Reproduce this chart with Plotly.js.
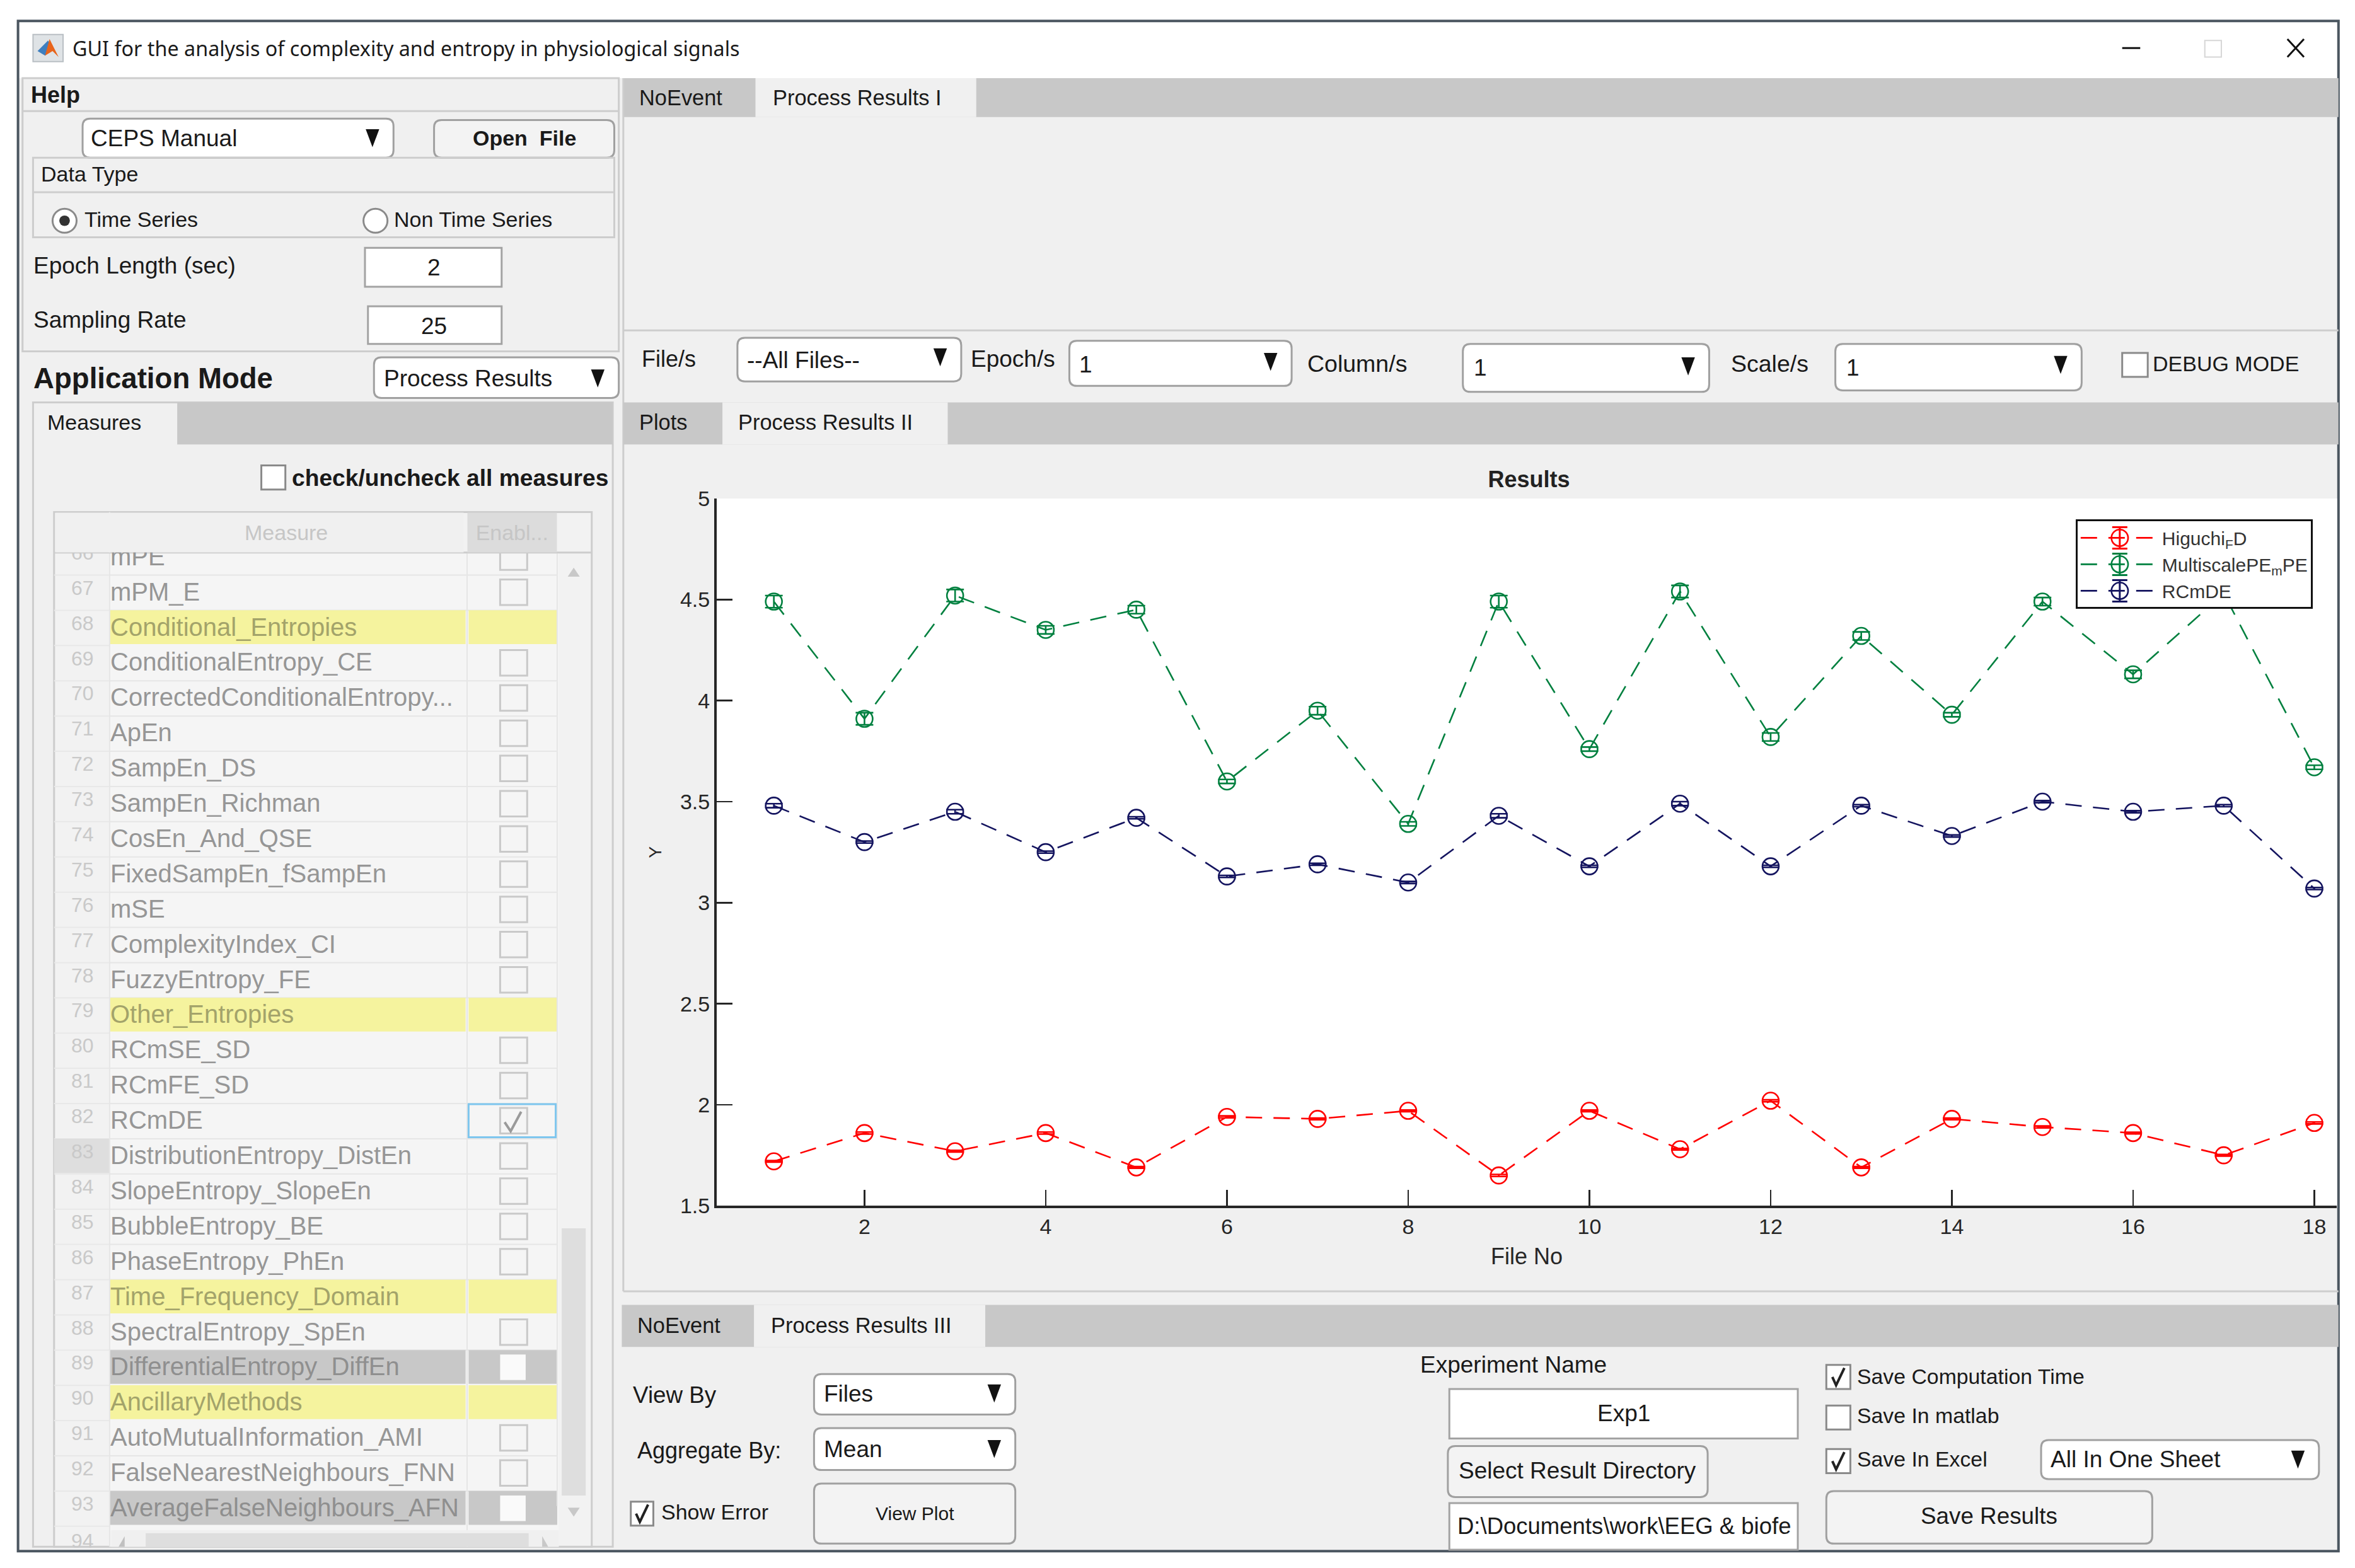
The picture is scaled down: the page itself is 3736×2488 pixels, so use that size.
<!DOCTYPE html>
<html><head><meta charset="utf-8">
<script src="https://cdn.plot.ly/plotly-3.0.1.min.js"></script>
<style>html,body{margin:0;padding:0;background:#fff}#gd{width:3736px;height:2488px}</style>
</head><body><div id="gd"></div>
<script>
// ---------- chart data ----------
const fileNo = [1,2,3,4,5,6,7,8,9,10,11,12,13,14,15,16,17,18];
const higuchiFD = [1.72,1.86,1.77,1.86,1.69,1.94,1.93,1.97,1.65,1.97,1.78,2.02,1.69,1.93,1.89,1.86,1.75,1.91];
const multiscalePE = [4.49,3.91,4.52,4.35,4.45,3.60,3.95,3.39,4.49,3.76,4.54,3.82,4.32,3.93,4.49,4.13,4.53,3.67];
const rcmDE = [3.48,3.30,3.45,3.25,3.42,3.13,3.19,3.10,3.43,3.18,3.49,3.18,3.48,3.33,3.50,3.45,3.48,3.07];
const higuchiErr = [0.004,0.005,0.004,0.005,0.004,0.005,0.004,0.004,0.005,0.004,0.004,0.005,0.004,0.004,0.005,0.004,0.004,0.005];
const multiscaleErr = [0.03,0.03,0.03,0.02,0.02,0.01,0.02,0.01,0.03,0.01,0.03,0.02,0.02,0.01,0.02,0.02,0.03,0.01];
const rcmErr = [0.01,0.005,0.01,0.005,0.005,0.005,0.005,0.005,0.01,0.005,0.01,0.005,0.005,0.005,0.005,0.005,0.005,0.005];
const seriesNames = ['Higuchi<sub>F</sub>D','MultiscalePE<sub>m</sub>PE','RCmDE'];
const seriesColors = ['#ff0000','#00803f','#14145f'];
const xTickValues = [2,4,6,8,10,12,14,16,18];
const yTickValues = [1.5,2,2.5,3,3.5,4,4.5,5];
const yTickLabels = ['1.5','2','2.5','3','3.5','4','4.5','5'];

// ---------- table content ----------
const measureNumbers = [66,67,68,69,70,71,72,73,74,75,76,77,78,79,80,81,82,83,84,85,86,87,88,89,90,91,92,93];
const measureNames = ['mPE','mPM_E','Conditional_Entropies','ConditionalEntropy_CE','CorrectedConditionalEntropy...','ApEn','SampEn_DS','SampEn_Richman','CosEn_And_QSE','FixedSampEn_fSampEn','mSE','ComplexityIndex_CI','FuzzyEntropy_FE','Other_Entropies','RCmSE_SD','RCmFE_SD','RCmDE','DistributionEntropy_DistEn','SlopeEntropy_SlopeEn','BubbleEntropy_BE','PhaseEntropy_PhEn','Time_Frequency_Domain','SpectralEntropy_SpEn','DifferentialEntropy_DiffEn','AncillaryMethods','AutoMutualInformation_AMI','FalseNearestNeighbours_FNN','AverageFalseNeighbours_AFN'];
const headingRows = [68,79,87,90];
const disabledRows = [89,93];

// ---------- page geometry helpers (reference measured on a 1568-wide view) ----------
const W = 3736, H = 2488, S = W/1568;
const px = x => x*S/W, py = y => 1 - y*S/H;
const shapes = [], notes = [];
const C = {band:'#c8c8c8', panel:'#f0f0f0', line:'#cdcdcd', btn:'#a0a0a0', text:'#1a1a1a', body:'Liberation Sans, Arial, sans-serif'};

function rect(x0,y0,x1,y1,fill,line,lw){
  shapes.push({type:'rect',xref:'paper',yref:'paper',x0:px(x0),x1:px(x1),y0:py(y1),y1:py(y0),
    fillcolor:fill||'rgba(0,0,0,0)',line:{color:line||'rgba(0,0,0,0)',width:line?(lw||2):0},layer:'below'});
}
function pathOf(cmds,fill,line,lw){
  shapes.push({type:'path',xref:'paper',yref:'paper',path:cmds,fillcolor:fill||'rgba(0,0,0,0)',
    line:{color:line||'rgba(0,0,0,0)',width:line?(lw||2):0},layer:'below'});
}
const P=(x,y)=>px(x)+','+py(y);
function round(x0,y0,x1,y1,r,fill,line,lw){
  pathOf('M'+P(x0+r,y0)+' L'+P(x1-r,y0)+' Q'+P(x1,y0)+' '+P(x1,y0+r)+' L'+P(x1,y1-r)+' Q'+P(x1,y1)+' '+P(x1-r,y1)+
    ' L'+P(x0+r,y1)+' Q'+P(x0,y1)+' '+P(x0,y1-r)+' L'+P(x0,y0+r)+' Q'+P(x0,y0)+' '+P(x0+r,y0)+' Z',fill,line,lw);
}
function hline(x0,x1,y,c,w){ shapes.push({type:'line',xref:'paper',yref:'paper',x0:px(x0),x1:px(x1),y0:py(y),y1:py(y),line:{color:c,width:w||2},layer:'below'}); }
function vline(x,y0,y1,c,w){ shapes.push({type:'line',xref:'paper',yref:'paper',x0:px(x),x1:px(x),y0:py(y0),y1:py(y1),line:{color:c,width:w||2},layer:'below'}); }
function text(t,x,y,o){ o=o||{};
  const a={text:t,xref:'paper',yref:'paper',x:px(x),y:py(y),showarrow:false,xanchor:o.anchor||'left',yanchor:'middle',
    font:{family:o.family||C.body,size:o.size||34,color:o.color||C.text,weight:o.bold?'bold':'normal'},borderpad:0,captureevents:false};
  if(o.bg){a.bgcolor=o.bg;} if(o.w){a.width=o.w*S;} if(o.h){a.height=o.h*S;}
  notes.push(a);
}
function arrow(x,y,s){ s=s||1; pathOf('M'+P(x-4.5*s,y-6*s)+' L'+P(x+4.5*s,y-6*s)+' L'+P(x,y+6*s)+' Z','#111'); }
function dropdown(x0,y0,x1,y1,label,lx,ly,ax,ay,size){
  round(x0,y0,x1,y1,5,'#fff',C.btn,3); text(label,lx,ly,{size:size||37}); arrow(ax,ay);
}
function button(x0,y0,x1,y1,label,cy,o){ round(x0,y0,x1,y1,5,'#f3f3f3',C.btn,3); text(label,(x0+x1)/2,cy,Object.assign({anchor:'center'},o||{})); }
function field(x0,y0,x1,y1,label,cx,cy,size){ rect(x0,y0,x1,y1,'#fff','#a3a3a3',3); if(label) text(label,cx,cy,{anchor:'center',size:size||37}); }
function check(x0,y0,x1,y1,on,line,fill){
  rect(x0,y0,x1,y1,fill===undefined?'#fff':fill,line||'#8a8a8a',3);
  if(on){ const cx=(x0+x1)/2, cy=(y0+y1)/2; pathOf('M'+P(cx-4,cy)+' L'+P(cx-1.5,cy+5.5)+' L'+P(cx+4,cy-6),null,on===true?'#222':on,4); }
}

// ---------- window frame ----------
rect(12,14,1557,1033,C.panel,null);
rect(12,14,1557,52,'#ffffff',null);
rect(12,14,1557,1033,null,'#4b5660',4);
rect(22,23,42,41,'#dfe3e6','#b9bfc4',2);
pathOf('M'+P(25,34)+' L'+P(32,27)+' L'+P(35,32)+' L'+P(30,37)+' Z','#3f7fbf');
pathOf('M'+P(30,37)+' L'+P(33,26)+' L'+P(39,38)+' L'+P(35,34)+' Z','#e8641b');
text('GUI for the analysis of complexity and entropy in physiological signals',48,32,{family:'Noto Sans, sans-serif',size:32.3});
hline(1413,1425,32,'#111',3);
rect(1468,27,1479,38,'#fff','#d6d6d6',2);
shapes.push({type:'line',xref:'paper',yref:'paper',x0:px(1523),x1:px(1534),y0:py(26),y1:py(38),line:{color:'#111',width:3},layer:'below'});
shapes.push({type:'line',xref:'paper',yref:'paper',x0:px(1523),x1:px(1534),y0:py(38),y1:py(26),line:{color:'#111',width:3},layer:'below'});

// ---------- left controls ----------
rect(15,52,412,234,null,C.line,3);
hline(15,412,74,C.line,3);
text('Help',20,63,{bold:true,size:36});
dropdown(55,79,262,105,'CEPS Manual',60,92,248,92);
button(289,80,409,105,'Open  File',92,{bold:true,size:34});
rect(22,105,409,158,null,C.line,3);
hline(22,409,128,C.line,3);
text('Data Type',27,116,{size:34});
shapes.push({type:'circle',xref:'paper',yref:'paper',x0:px(35),x1:px(51),y0:py(155),y1:py(139),fillcolor:'#fff',line:{color:'#8a8a8a',width:3},layer:'below'});
shapes.push({type:'circle',xref:'paper',yref:'paper',x0:px(39.5),x1:px(46.5),y0:py(150.5),y1:py(143.5),fillcolor:'#333',line:{width:0},layer:'below'});
text('Time Series',56,146,{size:34});
shapes.push({type:'circle',xref:'paper',yref:'paper',x0:px(242),x1:px(258),y0:py(155),y1:py(139),fillcolor:'#fff',line:{color:'#8a8a8a',width:3},layer:'below'});
text('Non Time Series',262,146,{size:34});
text('Epoch Length (sec)',22,177,{size:37});
field(243,165,334,191,'2',289,178);
text('Sampling Rate',22,213,{size:37});
field(245,204,334,229,'25',289,217);
text('Application Mode',22,252,{bold:true,size:45.6});
dropdown(249,238,412,265,'Process Results',255,252,398,252);

rect(22,268,408,1030,null,C.line,3);
rect(118,268,408,296,C.band,null);
text('Measures',31,281,{size:34});
check(174,310,190,326,false);
text('check/uncheck all measures',194,318,{bold:true,size:37.2});

// ---------- measures table ----------
rect(36,341,394,1030,'#f2f2f2',C.line,3);
rect(73,368,372,1030,'#f5f5f5',null);
const rowY = i => 371 + i*23.46;
measureNumbers.forEach((n,i)=>{
  const y=rowY(i), t=y-11.5, b=y+11.5;
  const heading=headingRows.includes(n), disabled=disabledRows.includes(n);
  if(n===83) rect(36,t,73,b,'#dedede',null);
  hline(36,73,b+0.5,'#e8e8e8',2);
  if(heading){ rect(73,t,310,b-0.5,'#f5f39e',null); rect(312,t,371,b-0.5,'#f5f39e',null); }
  else if(disabled){ rect(73,t,310,b-0.5,C.band,null); rect(312,t,371,b-0.5,C.band,null); }
  else hline(73,371,b+0.5,'#e6e6e6',2);
  text(String(n),55,y-3,{anchor:'center',size:32,color:'#c9c9c9'});
  text(measureNames[i],73,y-0.5,{size:40,color:disabled?'#8f8f8f':(heading?'#a3a36a':'#969696')});
  if(!heading){
    if(disabled) rect(333,y-8.5,350,y+8.5,'#fafafa',null);
    else rect(333,y-8.5,351,y+8.5,'#f5f5f5','#c9c9c9',3);
  }
});
vline(73,341,1030,'#e6e6e6',2);
vline(311,368,1030,'#e6e6e6',2);
vline(371,368,1003,'#e6e6e6',2);
// selected cell and its tick
rect(312,rowY(16)-11,370,rowY(16)+11,null,'#7ec6ee',3);
pathOf('M'+P(336,rowY(16)+1)+' L'+P(340,rowY(16)+7)+' L'+P(347,rowY(16)-6),null,'#9a9a9a',4);
// header (drawn as boxes that sit over the clipped first row)
text('\u00a0',36.5,354.5,{bg:'#f0f0f0',w:36,h:26});
text('Measure',72,354.5,{bg:'#f0f0f0',w:236,h:26,anchor:'left',size:34,color:'#c6c6c6'});
notes[notes.length-1].align='center';
text('Enabl...',311,354.5,{bg:'#dcdcdc',w:59,h:26,size:34,color:'#c6c6c6'});
notes[notes.length-1].align='center';
hline(36,394,368,C.line,3);
// scrollbars
pathOf('M'+P(378,384)+' L'+P(386,384)+' L'+P(382,378)+' Z','#c8c8c8');
rect(374,818,390,996,'#dedede',null);
pathOf('M'+P(378,1004)+' L'+P(386,1004)+' L'+P(382,1010)+' Z','#c8c8c8');
rect(74,1019,372,1030,'#f0f0f0',null);
rect(97,1021,352,1030,'#dedede',null);
pathOf('M'+P(83,1023)+' L'+P(83,1030)+' L'+P(79,1030)+' Z','#c0c0c0');
pathOf('M'+P(361,1023)+' L'+P(361,1030)+' L'+P(365,1030)+' Z','#c8c8c8');
text('94',55,1026,{anchor:'center',size:32,color:'#c9c9c9'});

// ---------- right upper tabs ----------
rect(415,52,1557,78,C.band,null);
rect(503,52,650,78,C.panel,null);
vline(415,52,860,C.line,3);
hline(415,1557,220,C.line,3);
text('NoEvent',425,65,{size:34.4});
text('Process Results I',514,65,{size:34.4});
text('File/s',427,239,{size:36});
dropdown(491,225,640,254,'--All Files--',497,240,626,238);
text('Epoch/s',646,239,{size:37});
dropdown(712,227,860,257,'1',718,243,846,241);
text('Column/s',870,242,{size:37.5});
dropdown(974,229,1138,261,'1',981,245,1124,244);
text('Scale/s',1152,242,{size:37.5});
dropdown(1222,229,1386,260,'1',1229,245,1372,243);
check(1413,235,1430,251,false);
text('DEBUG MODE',1433,242,{size:34});

// ---------- plot tabs ----------
rect(415,268,1557,296,C.band,null);
rect(481,268,631,296,C.panel,null);
text('Plots',425,281,{size:34.4});
text('Process Results II',491,281,{size:34.4});
hline(415,1557,860,C.line,3);

// ---------- bottom tabs and controls ----------
rect(414,869,1557,897,C.band,null);
rect(502,869,656,897,C.panel,null);
text('NoEvent',424,882.5,{size:34.4});
text('Process Results III',513,882.5,{size:34.4});
text('View By',421,929,{size:36.8});
dropdown(542,915,676,942,'Files',548,928,662,928);
text('Aggregate By:',424,966,{size:36});
dropdown(542,951,676,979,'Mean',548,965,662,965);
check(420,1000,435,1016,true);
text('Show Error',440,1007,{size:34});
button(542,988,676,1028,'View Plot',1008,{size:30});
text('Experiment Name',945,909,{size:37});
field(965,925,1197,958,'Exp1',1081,941);
button(964,963,1137,997,'Select Result Directory',979.5,{size:37});
field(965,1001,1197,1032,'',0,0);
text('D:\\Documents\\work\\EEG & biofe',970,1016.5,{size:36.5});
check(1216,909,1232,925,true);
text('Save Computation Time',1236,916.5,{size:33.8});
check(1216,936,1232,952,false);
text('Save In matlab',1236,942.5,{size:33.8});
check(1216,965,1232,981,true);
text('Save In Excel',1236,971.5,{size:33.8});
dropdown(1359,959,1544,985,'All In One Sheet',1365,972,1530,972);
button(1216,993,1433,1028,'Save Results',1009.5,{size:36.8});

// ---------- the white plot field ----------
rect(477,332,1556,803,'#ffffff',null);

// ---------- chart ----------
const ink = '#262626';
function series(y,err,name,color){
  return {type:'scatter',mode:'lines+markers',x:fileNo,y:y,name:name,
    line:{color:color,width:2.6,dash:'26px,18px'},
    marker:{symbol:'circle-open',size:26,color:color,line:{color:color,width:2.6}},
    error_y:{type:'data',array:err,visible:true,color:color,thickness:2.6,width:14}};
}
const traces=[
  series(higuchiFD,higuchiErr,seriesNames[0],seriesColors[0]),
  series(multiscalePE,multiscaleErr,seriesNames[1],seriesColors[1]),
  series(rcmDE,rcmErr,seriesNames[2],seriesColors[2])
];
const layout={
  width:W,height:H,margin:{l:0,r:0,t:0,b:0,pad:0},paper_bgcolor:'#ffffff',plot_bgcolor:'rgba(0,0,0,0)',
  showlegend:true,
  title:{text:'Results',x:1018*S/W,xref:'paper',xanchor:'center',y:py(319),yref:'paper',yanchor:'middle',
    font:{family:C.body,size:36,color:'#222',weight:'bold'}},
  xaxis:{domain:[px(477),px(1556)],range:[0.366,18.25],tickmode:'array',tickvals:xTickValues,ticktext:xTickValues.map(String),
    ticks:'inside',ticklen:25,tickwidth:2.5,tickcolor:ink,showline:true,linecolor:ink,linewidth:3.5,showgrid:false,zeroline:false,
    tickfont:{family:C.body,size:34,color:ink},
    title:{text:'File No',standoff:18,font:{family:C.body,size:36,color:ink}}},
  yaxis:{domain:[py(803),py(332)],range:[1.5,5],tickmode:'array',tickvals:yTickValues,ticktext:yTickLabels,
    ticks:'inside',ticklen:25,tickwidth:2.5,tickcolor:ink,showline:true,linecolor:ink,linewidth:3.5,showgrid:false,zeroline:false,
    tickfont:{family:C.body,size:34,color:ink},
    title:{text:'Y',standoff:22,font:{family:C.body,size:28,color:ink}}},
  legend:{x:px(1382),y:py(346),xanchor:'left',yanchor:'top',bgcolor:'#ffffff',bordercolor:'#111',borderwidth:3,
    itemwidth:124,entrywidth:298,entrywidthmode:'pixels',tracegroupgap:0,font:{family:C.body,size:30,color:'#333'}},
  shapes:shapes,annotations:notes,hovermode:false
};
Plotly.newPlot('gd',traces,layout,{displayModeBar:false,staticPlot:true,responsive:false}).then(()=>{
  // the library caps legend markers at 16px: enlarge them and add the error-bar glyph the reference shows
  document.querySelectorAll('#gd .legend .traces').forEach((g,i)=>{
    const p=g.querySelector('.scatterpts');
    if(!p) return;
    const base=p.getAttribute('transform')||'';
    p.setAttribute('transform',base+' scale(1.65)');
    p.style.strokeWidth='1.6px';
    const bar=document.createElementNS('http://www.w3.org/2000/svg','path');
    bar.setAttribute('d','M-12,-17H12M-12,17H12M0,-17V17');
    bar.setAttribute('transform',base);
    bar.setAttribute('fill','none');
    bar.setAttribute('stroke',seriesColors[i]);
    bar.setAttribute('stroke-width','3');
    p.parentNode.appendChild(bar);
  });
});
</script></body></html>
